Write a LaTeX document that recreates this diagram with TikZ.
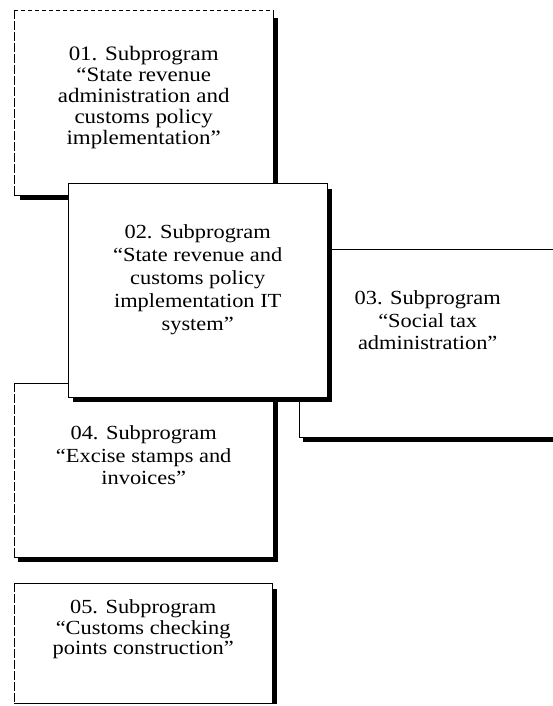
\documentclass[tikz,border=0pt]{standalone}
\usepackage{fontspec}
\setmainfont{Liberation Serif}[FakeStretch=1.12]
\usetikzlibrary{calc}
\begin{document}
\begin{tikzpicture}[x=1pt,y=-1pt,
  boxarea/.style={draw=none,fill=white,inner sep=0pt,anchor=north west},
  edge/.style={line width=0.9pt},
  brokenedge/.style={line width=0.9pt,dash pattern=on 9pt off 2pt},
  dottededge/.style={line width=0.9pt,dash pattern=on 4pt off 3pt},
  shade/.style={line width=5pt,line join=miter,line cap=butt},
  caption/.style={align=center,inner sep=0pt,font=\fontsize{20}{#1}\selectfont},
  caption/.default=21]
\useasboundingbox (0,0) rectangle (553,706);

% 01: revenue administration
\node[boxarea,minimum width=259pt,minimum height=185pt] (b01) at (14,10) {};
\draw[dottededge] (b01.north west) -- (b01.north east);
\draw[brokenedge] (b01.north west) -- (b01.south west);
\draw[edge] (b01.south west) -- (b01.south east) -- (b01.north east);
\draw[shade] ($(b01.north east)+(2.5,8)$) -- ($(b01.south east)+(2.5,2.5)$) -- ($(b01.south west)+(6,2.5)$);
\node[caption=21,font=\fontsize{20.5}{21}\selectfont] (t01) at ($(b01.center)+(0,-5.5)$)
  {01. Subprogram\\“State revenue\\administration and\\customs policy\\implementation”};

% 03: social tax
\node[boxarea,minimum width=257pt,minimum height=188pt] (b03) at (299,249) {};
\draw[edge] (b03.north east) -- (b03.north west) -- (b03.south west) -- (b03.south east);
\draw[shade] ($(b03.south west)+(4,2.5)$) -- ($(b03.south east)+(0,2.5)$);
\node[caption=22.5] (t03) at ($(b03.center)+(0,-23)$)
  {03. Subprogram\\“Social tax\\administration”};

% 04: excise stamps
\node[boxarea,minimum width=259pt,minimum height=174pt] (b04) at (14,383) {};
\draw[brokenedge] (b04.north west) -- (b04.south west);
\draw[edge] (b04.north west) -- (b04.north east) -- (b04.south east) -- (b04.south west);
\draw[shade] ($(b04.north east)+(2.5,8)$) -- ($(b04.south east)+(2.5,2.5)$) -- ($(b04.south west)+(4,2.5)$);
\node[caption=22.5] (t04) at ($(b04.center)+(0,-15)$)
  {04. Subprogram\\“Excise stamps and\\invoices”};

% 05: checking points
\node[boxarea,minimum width=258pt,minimum height=120pt] (b05) at (14,583) {};
\draw[brokenedge] (b05.north west) -- (b05.south west);
\draw[edge] (b05.north west) -- (b05.north east) -- (b05.south east);
\draw[line width=1.6pt] (b05.south west) -- (b05.south east);
\draw[shade] ($(b05.north east)+(2.5,6)$) -- ($(b05.south east)+(2.5,0.8)$);
\node[caption=20.5] (t05) at ($(b05.center)+(0,-14)$)
  {05. Subprogram\\“Customs checking\\points construction”};

% 02: IT system, drawn last so it lies over its neighbours
\node[boxarea,minimum width=259pt,minimum height=214pt] (b02) at (68,183) {};
\draw[edge] (b02.south west) -- (b02.north west) -- (b02.north east) -- (b02.south east) -- cycle;
\draw[shade] ($(b02.north east)+(2.5,6)$) -- ($(b02.south east)+(2.5,2.5)$) -- ($(b02.south west)+(5,2.5)$);
\node[caption=23] (t02) at ($(b02.center)+(0,-10)$)
  {02. Subprogram\\“State revenue and\\customs policy\\implementation IT\\system”};
\end{tikzpicture}
\end{document}
